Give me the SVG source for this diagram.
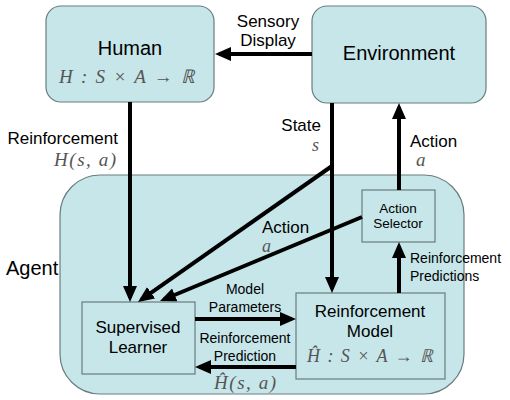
<svg xmlns="http://www.w3.org/2000/svg" width="510" height="400" viewBox="0 0 510 400">
<style>
.box{fill:#c6e6e9;stroke:#6a7c7e;stroke-width:1.2}
.t{font-family:"Liberation Sans",Arial,sans-serif;fill:#000}
.m{font-family:"Liberation Serif","DejaVu Serif",serif;font-style:italic;fill:#555}
.c{text-anchor:middle}
.e{text-anchor:end}
.ah{stroke:#000;stroke-width:4;fill:none;marker-end:url(#arr)}
</style>
<defs>
<marker id="arr" markerUnits="userSpaceOnUse" markerWidth="18" markerHeight="16" refX="12" refY="7" orient="auto">
<path d="M0,0 L16,7 L0,14 z" fill="#000"/>
</marker>
</defs>
<g id="agent">
<rect class="box" x="60" y="175" width="404" height="219" rx="40"/>
<text class="t" x="6" y="275" font-size="20">Agent</text>
</g>
<g id="human">
<rect class="box" x="46" y="6" width="168" height="96" rx="15"/>
<text class="t c" x="130" y="55" font-size="20">Human</text>
<text class="m c" x="127" y="83" font-size="19" textLength="136" lengthAdjust="spacing">H : S × A → ℝ</text>
</g>
<g id="environment">
<rect class="box" x="312" y="6" width="174" height="97" rx="15"/>
<text class="t c" x="399" y="60" font-size="20">Environment</text>
</g>
<g id="supervised-learner">
<rect class="box" x="82" y="302" width="113" height="72"/>
<text class="t c" x="138" y="333" font-size="17">Supervised</text>
<text class="t c" x="138" y="353" font-size="17">Learner</text>
</g>
<g id="reinforcement-model">
<rect class="box" x="296" y="293" width="149" height="86"/>
<text class="t c" x="370" y="317" font-size="17">Reinforcement</text>
<text class="t c" x="370" y="337" font-size="17">Model</text>
<text class="m c" x="370" y="362" font-size="18" textLength="126" lengthAdjust="spacing">Ĥ : S × A → ℝ</text>
</g>
<g id="action-selector">
<rect class="box" x="362" y="190" width="73" height="52"/>
<text class="t c" x="398" y="213" font-size="13.5">Action</text>
<text class="t c" x="398" y="228" font-size="13.5">Selector</text>
</g>
<g id="connectors">
<line class="ah" x1="312" y1="54" x2="219" y2="54"/>
<line class="ah" x1="130" y1="102" x2="130" y2="298"/>
<line class="ah" x1="332" y1="103" x2="332" y2="289"/>
<line class="ah" x1="332" y1="166" x2="141.3" y2="299.7"/>
<line class="ah" x1="362" y1="217" x2="163.7" y2="299.5"/>
<line class="ah" x1="399" y1="190" x2="399" y2="107"/>
<line class="ah" x1="195" y1="319" x2="292" y2="319"/>
<line class="ah" x1="296" y1="367" x2="199" y2="367"/>
<line class="ah" x1="399" y1="293" x2="399" y2="246"/>
<text class="t c" x="268" y="27" font-size="17">Sensory</text>
<text class="t c" x="268" y="46" font-size="17">Display</text>
<text class="t e" x="118" y="144" font-size="17">Reinforcement</text>
<text class="m e" x="116" y="166" font-size="19" textLength="62" lengthAdjust="spacing">H(s, a)</text>
<text class="t e" x="321" y="131" font-size="17">State</text>
<text class="m" x="312" y="151" font-size="18">s</text>
<text class="t" x="410" y="147" font-size="17">Action</text>
<text class="m" x="416" y="166" font-size="19">a</text>
<text class="t" x="262" y="233" font-size="17">Action</text>
<text class="m" x="262" y="252" font-size="18">a</text>
<text class="t" x="410" y="263" font-size="14">Reinforcement</text>
<text class="t" x="410" y="281" font-size="14">Predictions</text>
<text class="t c" x="245" y="294" font-size="14">Model</text>
<text class="t c" x="245" y="312" font-size="14">Parameters</text>
<text class="t c" x="245" y="343" font-size="14">Reinforcement</text>
<text class="t c" x="245" y="361" font-size="14">Prediction</text>
<text class="m c" x="245" y="389" font-size="19" textLength="62" lengthAdjust="spacing">Ĥ(s, a)</text>
</g>
</svg>
